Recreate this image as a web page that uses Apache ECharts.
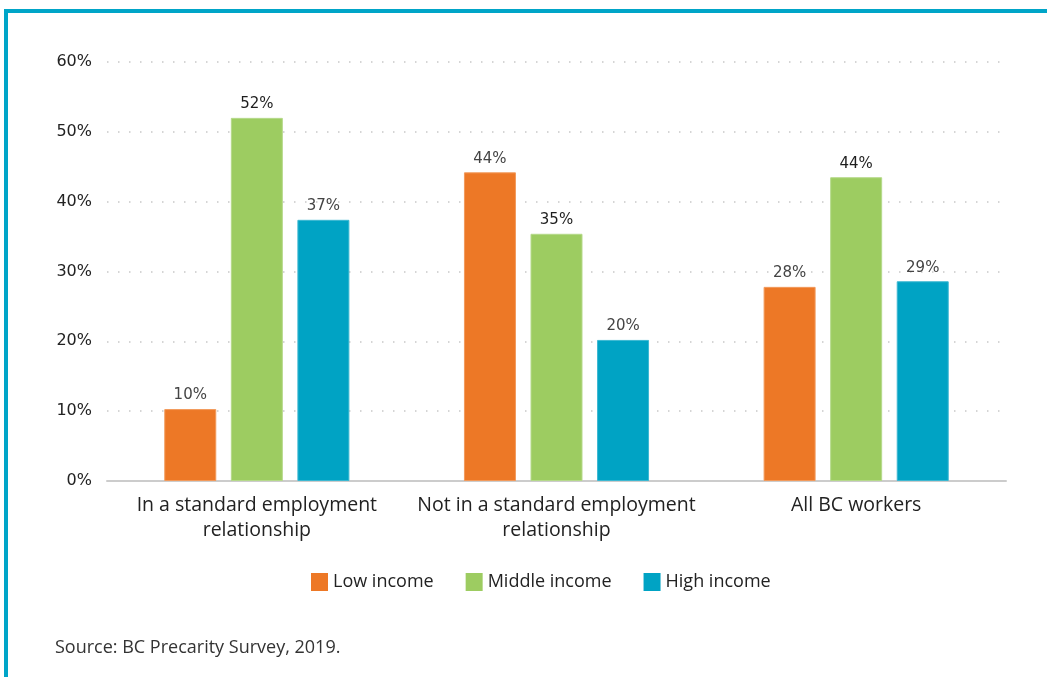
<!DOCTYPE html>
<html>
<head>
<meta charset="utf-8">
<title>Income groups by employment relationship</title>
<script src="https://cdn.jsdelivr.net/npm/echarts@6/dist/echarts.min.js"></script>
<style>
  html, body { margin: 0; padding: 0; background: #ffffff; }
  #chart { width: 1047px; height: 677px; }
</style>
</head>
<body>
<div id="chart"></div>
<script>
// Share of workers in each income group, by employment relationship
const categories = [
  'In a standard employment\nrelationship',
  'Not in a standard employment\nrelationship',
  'All BC workers'
];
const seriesNames = ['Low income', 'Middle income', 'High income'];
const lowIncome = [10.3, 44.2, 27.8];
const middleIncome = [52.0, 35.4, 43.5];
const highIncome = [37.4, 20.2, 28.6];
const yTicks = [0, 10, 20, 30, 40, 50, 60];

const colors = ['#ED7826', '#9DCC61', '#00A3C4'];
const edgeColors = ['#F29A5C', '#B5D98A', '#3CB8D2'];
const labelColors = ['#444444', '#1e1e1e', '#444444'];
const values = [lowIncome, middleIncome, highIncome];

const chart = echarts.init(document.getElementById('chart'), null, { renderer: 'canvas' });

const series = seriesNames.map((name, i) => ({
  name: name,
  type: 'bar',
  data: values[i],
  barWidth: 52,
  barGap: '28%',
  itemStyle: { color: colors[i], borderColor: edgeColors[i], borderWidth: 1 },
  label: {
    show: true,
    position: 'top',
    distance: 6,
    fontFamily: 'DejaVu Sans',
    fontSize: 15,
    color: labelColors[i],
    formatter: p => Math.round(p.value) + '%'
  }
}));

chart.setOption({
  animation: false,
  backgroundColor: '#ffffff',
  color: colors,
  grid: { left: 107, right: 41, top: 62, bottom: 196 },
  legend: {
    data: seriesNames,
    top: 568,
    left: 306,
    itemWidth: 17,
    itemHeight: 18,
    itemGap: 32,
    icon: 'rect',
    itemStyle: { borderWidth: 0 },
    textStyle: { fontFamily: 'Open Sans', fontSize: 18, color: '#222222' }
  },
  xAxis: {
    type: 'category',
    data: categories,
    axisLine: { show: true, lineStyle: { color: '#cccccc', width: 2 } },
    axisTick: { show: false },
    axisLabel: {
      margin: 12,
      fontFamily: 'Open Sans',
      fontSize: 19.5,
      lineHeight: 25,
      color: '#222222',
      interval: 0
    }
  },
  yAxis: {
    type: 'value',
    min: yTicks[0],
    max: yTicks[yTicks.length - 1],
    interval: 10,
    axisLine: { show: false },
    axisTick: { show: false },
    axisLabel: {
      margin: 15,
      fontFamily: 'DejaVu Sans',
      fontSize: 16,
      color: '#222222',
      formatter: v => v + '%'
    },
    splitLine: {
      show: true,
      lineStyle: { color: '#c8c8c8', width: 1.5, type: [1.5, 9.5] }
    }
  },
  graphic: [
    { type: 'rect', shape: { x: 4, y: 9, width: 1043, height: 4 }, style: { fill: '#00A5C8' } },
    { type: 'rect', shape: { x: 4, y: 9, width: 4, height: 668 }, style: { fill: '#00A5C8' } },
    {
      type: 'text',
      left: 55,
      top: 639,
      style: {
        text: 'Source: BC Precarity Survey, 2019.',
        fontFamily: 'Open Sans',
        fontSize: 18,
        fill: '#333333'
      }
    }
  ],
  series: series
});
</script>
</body>
</html>
